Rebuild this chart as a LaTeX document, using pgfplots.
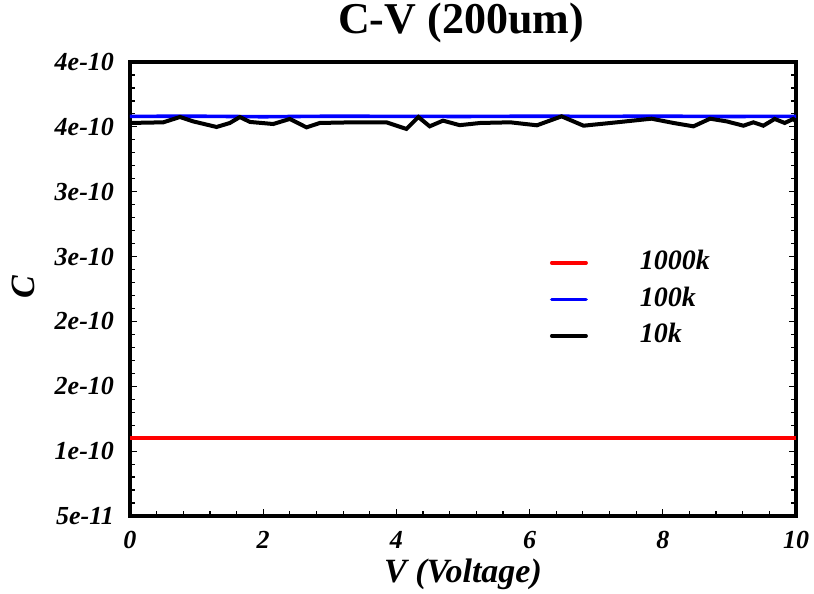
\documentclass[border=0pt]{standalone}
\usepackage{fontspec}
\setmainfont{Liberation Serif}
\usepackage{pgfplots}
\pgfplotsset{compat=1.18}
\begin{document}
\begin{tikzpicture}
\begin{axis}[
  scale only axis,
  width=333pt, height=227pt,
  xmin=0, xmax=10, ymin=0.5e-10, ymax=4e-10,
  xtick={0,2,4,6,8,10}, minor x tick num=4,
  ytick={0.5e-10,1e-10,1.5e-10,2e-10,2.5e-10,3e-10,3.5e-10,4e-10},
  yticklabels={5e-11,1e-10,2e-10,2e-10,3e-10,3e-10,4e-10,4e-10},
  scaled y ticks=false,
  minor y tick num=4,
  xtick pos=lower, ytick pos=both, yticklabel pos=left,
  tick align=inside,
  axis line style={line width=2.2pt},
  tick style={line width=0.6pt, black},
  major tick length=3.3pt, minor tick length=2.5pt,
  ticklabel style={font=\fontsize{13}{15}\selectfont\bfseries\itshape},
  /pgf/number format/assume math mode=true,
  xticklabel style={yshift=-4pt},
  yticklabel style={xshift=-4.5pt},
  title={C-V (200um)},
  title style={font=\fontsize{22}{26}\selectfont\bfseries, at={(0.497,1)}, anchor=base, yshift=8.5pt},
  xlabel={V (Voltage)}, ylabel={C},
  label style={font=\fontsize{17}{20}\selectfont\bfseries\itshape},
  xlabel style={at={(axis description cs:0.5,0)}, anchor=base, yshift=-33.5pt},
  ylabel style={at={(axis description cs:-0.1607,0.505)}, anchor=center},
  legend style={draw=none, fill=none, inner sep=0pt, outer sep=0pt,
    at={(rel axis cs:0.6306,0.586)}, anchor=north west,
    font=\fontsize{14}{16}\selectfont\bfseries\itshape,
    nodes={inner sep=0pt, text height=10pt, text depth=3pt},
    row sep=5.25pt,
    /tikz/every odd column/.append style={column sep=26pt}},
  legend cell align=left,
  legend image code/.code={\draw[#1, line width=1.75pt, line cap=round] (0.9pt,0pt) -- (18.1pt,0pt);},
]
\addplot[red, line width=2pt] coordinates {(0,1.10e-10) (10,1.10e-10)};
\addlegendentry{1000k}
\addplot[blue, line width=1.8pt] coordinates {
(0,3.581e-10) (1,3.582e-10) (2,3.578e-10) (3,3.582e-10) (4,3.581e-10)
(5,3.580e-10) (6,3.582e-10) (7,3.581e-10) (8,3.582e-10) (9,3.580e-10) (10,3.581e-10)};
\addlegendentry{100k}
\addplot[black, line width=2pt] coordinates {
(0,3.530e-10) (0.50,3.535e-10) (0.75,3.576e-10) (0.95,3.542e-10) (1.30,3.499e-10)
(1.50,3.530e-10) (1.65,3.576e-10) (1.80,3.538e-10) (2.15,3.522e-10) (2.40,3.561e-10)
(2.65,3.496e-10) (2.85,3.530e-10) (3.35,3.535e-10) (3.85,3.535e-10) (4.15,3.484e-10)
(4.33,3.576e-10) (4.50,3.504e-10) (4.70,3.548e-10) (4.95,3.513e-10) (5.26,3.530e-10)
(5.71,3.535e-10) (6.11,3.512e-10) (6.48,3.581e-10) (6.81,3.509e-10) (7.31,3.535e-10)
(7.83,3.563e-10) (8.16,3.530e-10) (8.46,3.504e-10) (8.71,3.563e-10) (8.96,3.542e-10)
(9.21,3.509e-10) (9.36,3.535e-10) (9.51,3.509e-10) (9.68,3.561e-10) (9.83,3.530e-10)
(9.96,3.561e-10) (10,3.540e-10)};
\addlegendentry{10k}
\path (rel axis cs:0,0) ++(-65pt,-39pt) coordinate (bl);
\path (rel axis cs:1,1) ++(9pt,31pt) coordinate (tr);
\end{axis}
\pgfresetboundingbox
\path[use as bounding box] (bl) rectangle (tr);
\end{tikzpicture}
\end{document}
